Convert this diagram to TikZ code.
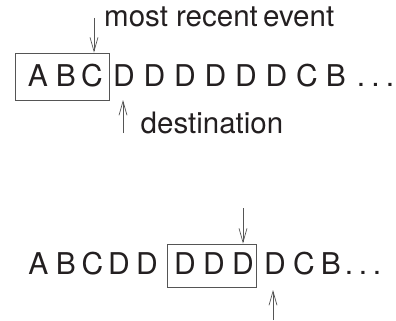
\documentclass[tikz,border=0pt]{standalone}
\usepackage{fontspec}
\setmainfont{TeX Gyre Heros}
\usetikzlibrary{arrows.meta}
\definecolor{ink}{HTML}{231F20}
\definecolor{linec}{HTML}{555555}
\tikzset{
  glyph/.style={anchor=base,inner sep=0pt,text=ink,font=\fontsize{30}{36}\selectfont},
  lbl/.style={anchor=base west,inner sep=0pt,text=ink,font=\fontsize{29.5}{35}\selectfont},
  frame/.style={draw=linec,line width=0.8pt,rectangle,inner sep=0pt},
  arr/.style={draw=linec,line width=0.7pt,-{Straight Barb[length=14pt,width=8pt,line width=0.7pt]}}
}
\begin{document}
\begin{tikzpicture}[x=1pt,y=-1pt]
\useasboundingbox (0,0) rectangle (396,321);
% top row
\node[frame,minimum width=94pt,minimum height=47pt] (box1) at (62,76.5) {};
\foreach \n/\x/\c in {a1/38/A,b1/66/B,c1/92/C,d11/124/D,d12/154.5/D,d13/185/D,d14/215.5/D,d15/246/D,d16/276.5/D,c12/307/C,b12/336/B,p11/361/.,p12/375.5/.,p13/390/.}
  \node[glyph] (\n) at (\x,86) {\c};
\node[lbl] (mre) at (104,27) {most recent\hspace{-3pt} event};
\node[lbl] (dest) at (140.5,133) {destination};
\coordinate (t1) at (94,18);
\draw[arr] (t1) -- (t1 |- box1.north);
\coordinate (t2) at (123,133);
\coordinate (t2e) at (123,100);
\draw[arr] (t2) -- (t2e);
% bottom row
\node[frame,minimum width=89pt,minimum height=43pt] (box2) at (211.5,265.5) {};
\foreach \n/\x/\c in {a2/38.5/A,b2/66/B,c2/92.5/C,d21/119/D,d22/147/D,d23/185/D,d24/214/D,d25/243/D,d26/275/D,c22/304/C,b22/331/B,p21/349/.,p22/363/.,p23/377/.}
  \node[glyph] (\n) at (\x,274) {\c};
\coordinate (t3) at (243,208);
\draw[arr] (t3) -- (t3 |- box2.north);
\coordinate (t4) at (273,320);
\coordinate (t4e) at (273,290);
\draw[arr] (t4) -- (t4e);
\end{tikzpicture}
\end{document}
